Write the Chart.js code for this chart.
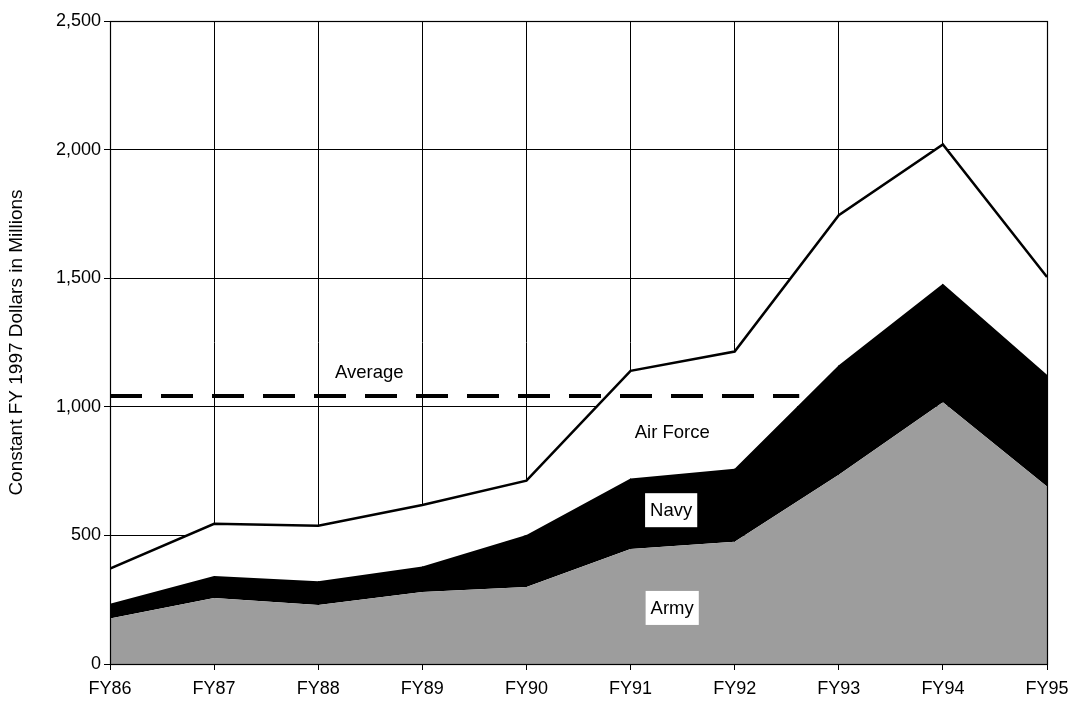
<!DOCTYPE html>
<html>
<head>
<meta charset="utf-8">
<script src="https://cdn.jsdelivr.net/npm/chart.js@4.4.1/dist/chart.umd.min.js"></script>
<style>
  html, body { margin: 0; padding: 0; background: #fff; }
  #c { display: block; }
</style>
</head>
<body>
<canvas id="c" width="1069" height="709"></canvas>
<script>
// ---- data ----
const categories = ['FY86', 'FY87', 'FY88', 'FY89', 'FY90', 'FY91', 'FY92', 'FY93', 'FY94', 'FY95'];
const army     = [177, 257, 229, 280, 299, 447, 475, 736, 1018, 690];
const navy     = [ 57,  85,  93,  99, 203, 274, 284, 426,  460, 435];
const airForce = [137, 203, 216, 239, 211, 419, 456, 583,  542, 380];
const averageValue = 1042;
const averageSpan = [0, 6.62];          // x extent (category index units) of the dashed average line
const yTicks = [0, 500, 1000, 1500, 2000, 2500];
const yTitle = 'Constant FY 1997 Dollars in Millions';

// annotation texts placed at data coordinates (x in category index, y in dollars)
const annotations = [
  { text: 'Average',   x: 2.49, y: 1135, box: false },
  { text: 'Air Force', x: 5.40, y: 902,  box: false },
  { text: 'Navy',      x: 5.39, y: 598,  box: true  },
  { text: 'Army',      x: 5.40, y: 218,  box: true  }
];

const FONT = '"Liberation Sans", Arial, sans-serif';
const toXY = arr => arr.map((v, i) => ({ x: i, y: v }));

const framePlugin = {
  id: 'frameAndLabels',
  afterDatasetsDraw(chart) {
    const { ctx, chartArea: a, scales } = chart;
    ctx.save();
    ctx.strokeStyle = '#000';
    ctx.lineWidth = 1.2;
    ctx.strokeRect(a.left + 0.5, a.top + 0.5, a.right - a.left, a.bottom - a.top);
    ctx.font = '18.5px ' + FONT;
    ctx.textAlign = 'center';
    ctx.textBaseline = 'middle';
    annotations.forEach(an => {
      const px = scales.x.getPixelForValue(an.x);
      const py = scales.y.getPixelForValue(an.y);
      if (an.box) {
        const w = ctx.measureText(an.text).width + 10;
        const h = 34;
        ctx.fillStyle = '#fff';
        ctx.fillRect(px - w / 2, py - h / 2, w, h);
      }
      ctx.fillStyle = '#000';
      ctx.fillText(an.text, px, py + 1);
    });
    ctx.restore();
  }
};

new Chart(document.getElementById('c'), {
  type: 'line',
  data: {
    datasets: [
      {
        label: 'Army', data: toXY(army), yAxisID: 'y',
        backgroundColor: '#9d9d9d', borderWidth: 0, fill: 'origin', pointRadius: 0
      },
      {
        label: 'Navy', data: toXY(navy), yAxisID: 'y',
        backgroundColor: '#000', borderWidth: 0, fill: '-1', pointRadius: 0
      },
      {
        label: 'Air Force', data: toXY(airForce), yAxisID: 'y',
        backgroundColor: '#fff', borderColor: '#000', borderWidth: 2.5, fill: '-1', pointRadius: 0
      },
      {
        label: 'Average', yAxisID: 'yAvg',
        data: averageSpan.map(x => ({ x: x, y: averageValue })),
        borderColor: '#000', borderWidth: 4, borderDash: [32, 19], borderCapStyle: 'butt',
        fill: false, pointRadius: 0, order: -1
      }
    ]
  },
  options: {
    responsive: false,
    animation: false,
    devicePixelRatio: 1,
    layout: { padding: { left: 0, right: 22, top: 21, bottom: 0 } },
    elements: { line: { tension: 0 } },
    plugins: { legend: { display: false }, tooltip: { enabled: false } },
    scales: {
      x: {
        type: 'linear', min: 0, max: categories.length - 1,
        afterBuildTicks: s => { s.ticks = categories.map((c, i) => ({ value: i })); },
        afterFit: s => { s.height = 45; s.paddingRight = 0; s.paddingLeft = 0; },
        grid: { color: '#000', lineWidth: 1, tickLength: 6, drawOnChartArea: true },
        border: { display: true, color: '#000' },
        ticks: {
          color: '#000', font: { family: FONT, size: 18 }, padding: 8, maxRotation: 0,
          autoSkip: false,
          callback: v => categories[v]
        }
      },
      y: {
        stacked: true, min: 0, max: 2500,
        afterBuildTicks: s => { s.ticks = yTicks.map(v => ({ value: v })); },
        afterFit: s => { s.width = 110; },
        grid: { color: '#000', lineWidth: 1, tickLength: 6 },
        border: { display: true, color: '#000' },
        ticks: {
          color: '#000', font: { family: FONT, size: 18 }, padding: 3,
          callback: v => v.toLocaleString('en-US')
        },
        title: {
          display: true, text: yTitle, color: '#000',
          font: { family: FONT, size: 19 }, padding: { top: 5, bottom: 0 }
        }
      },
      yAvg: {
        display: false, stacked: false, min: 0, max: 2500
      }
    }
  },
  plugins: [framePlugin]
});
</script>
</body>
</html>
